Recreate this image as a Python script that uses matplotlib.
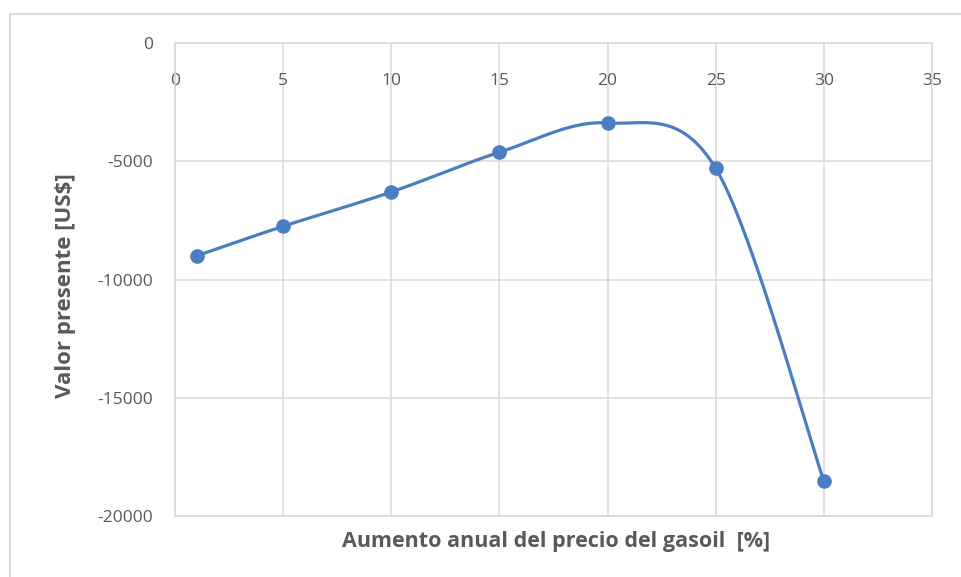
import numpy as np
import matplotlib as mpl
mpl.use('Agg')
import matplotlib.pyplot as plt
from matplotlib.patches import Rectangle

# annual fuel price increase [%] vs present value [US$]
aumento = [1, 5, 10, 15, 20, 25, 30]
valor_presente = [-9000, -7750, -6300, -4620, -3380, -5300, -18520]

x_ticks = [0, 5, 10, 15, 20, 25, 30, 35]
y_ticks = [0, -5000, -10000, -15000, -20000]

LINE = '#4a7ec0'
GRID = '#d9d9d9'
TEXT = '#595959'


def smooth(xs, ys, n=60):
    # Catmull-Rom style Bezier through the points, like a spreadsheet "smoothed line"
    xs = np.asarray(xs, float)
    ys = np.asarray(ys, float)
    pts = np.column_stack([xs, ys])
    out = []
    for i in range(len(pts) - 1):
        p0 = pts[max(i - 1, 0)]
        p1 = pts[i]
        p2 = pts[i + 1]
        p3 = pts[min(i + 2, len(pts) - 1)]
        c1 = p1 + (p2 - p0) / 6.0
        c2 = p2 - (p3 - p1) / 6.0
        t = np.linspace(0, 1, n)[:, None]
        seg = ((1 - t) ** 3) * p1 + 3 * ((1 - t) ** 2) * t * c1 + 3 * (1 - t) * t ** 2 * c2 + t ** 3 * p2
        out.append(seg)
    curve = np.vstack(out)
    return curve[:, 0], curve[:, 1]


plt.rcParams['font.family'] = ['Open Sans', 'DejaVu Sans']
plt.rcParams['axes.unicode_minus'] = False

fig = plt.figure(figsize=(9.62, 5.77), dpi=100)
fig.patches.append(Rectangle((10 / 962, -0.1), 1.2, 1 - 14 / 577 + 0.1, transform=fig.transFigure,
                             fill=False, edgecolor=GRID, linewidth=1.5, zorder=0))

ax = fig.add_axes([175 / 962, 1 - 516 / 577, (932 - 175) / 962, (516 - 43) / 577])
ax.set_xlim(0, 35)
ax.set_ylim(-20000, 0)
ax.set_xticks(x_ticks)
ax.set_yticks(y_ticks)
ax.xaxis.tick_top()
ax.tick_params(axis='both', length=0, colors=TEXT, labelsize=12.5)
ax.tick_params(axis='x', pad=-33)
ax.tick_params(axis='y', pad=16)
ax.grid(True, color=GRID, linewidth=1.1)
for s in ax.spines.values():
    s.set_color(GRID)
    s.set_linewidth(1.1)
ax.set_axisbelow(True)

sx, sy = smooth(aumento, valor_presente)
ax.plot(sx, sy, color=LINE, linewidth=2.3, solid_capstyle='round', zorder=3)
ax.plot(aumento, valor_presente, 'o', color=LINE, markersize=9.5, zorder=4)

fig.text(556 / 962, 1 - 541 / 577, 'Aumento anual del precio del gasoil  [%]',
         ha='center', va='center', fontsize=15.5, fontweight='bold', color=TEXT)
fig.text(65 / 962, 1 - 286 / 577, 'Valor presente [US$]', rotation=90,
         ha='center', va='center', fontsize=16, fontweight='bold', color=TEXT)

fig.savefig('out.png', dpi=100)
